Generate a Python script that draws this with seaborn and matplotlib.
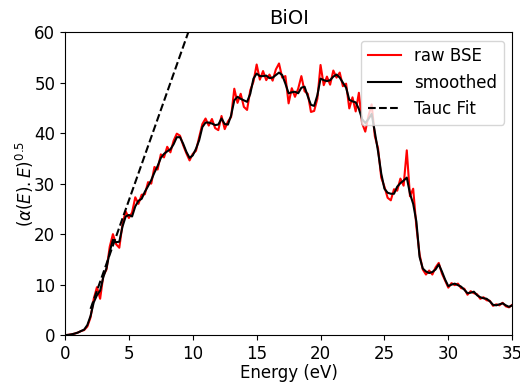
import numpy as np
import pandas as pd
import matplotlib
matplotlib.use("Agg")
import matplotlib.pyplot as plt
import seaborn as sns

energy = [0.0, 0.25, 0.5, 0.75, 1.0, 1.25, 1.5, 1.75, 2.0, 2.25, 2.5, 2.75, 3.0, 3.25, 3.5, 3.75,
          4.0, 4.25, 4.5, 4.75, 5.0, 5.25, 5.5, 5.75, 6.0, 6.25, 6.5, 6.75, 7.0, 7.25, 7.5, 7.75,
          8.0, 8.25, 8.5, 8.75, 9.0, 9.25, 9.5, 9.75, 10.0, 10.25, 10.5, 10.75, 11.0, 11.25, 11.5, 11.75,
          12.0, 12.25, 12.5, 12.75, 13.0, 13.25, 13.5, 13.75, 14.0, 14.25, 14.5, 14.75, 15.0, 15.25, 15.5, 15.75,
          16.0, 16.25, 16.5, 16.75, 17.0, 17.25, 17.5, 17.75, 18.0, 18.25, 18.5, 18.75, 19.0, 19.25, 19.5, 19.75,
          20.0, 20.25, 20.5, 20.75, 21.0, 21.25, 21.5, 21.75, 22.0, 22.25, 22.5, 22.75, 23.0, 23.25, 23.5, 23.75,
          24.0, 24.25, 24.5, 24.75, 25.0, 25.25, 25.5, 25.75, 26.0, 26.25, 26.5, 26.75, 27.0, 27.25, 27.5, 27.75,
          28.0, 28.25, 28.5, 28.75, 29.0, 29.25, 29.5, 29.75, 30.0, 30.25, 30.5, 30.75, 31.0, 31.25, 31.5, 31.75,
          32.0, 32.25, 32.5, 32.75, 33.0, 33.25, 33.5, 33.75, 34.0, 34.25, 34.5, 34.75, 35.0]

raw_bse = [0.0, 0.05, 0.15, 0.3, 0.5, 0.8, 1.0, 1.7, 3.5, 7.2, 9.5, 7.2, 11.8, 13.0, 17.5, 20.0,
           18.0, 17.3, 22.0, 24.5, 23.2, 24.3, 27.3, 26.0, 27.8, 27.9, 30.3, 30.0, 33.3, 32.8, 35.8, 35.2,
           37.3, 36.2, 38.5, 39.9, 39.5, 37.6, 36.0, 34.6, 35.9, 36.5, 39.2, 41.8, 42.9, 41.5, 42.8, 41.0,
           40.6, 43.4, 40.8, 42.3, 43.2, 48.8, 46.0, 47.8, 45.2, 44.6, 48.5, 50.2, 53.6, 50.6, 52.3, 50.5,
           51.6, 50.4, 52.6, 53.8, 51.0, 51.3, 45.9, 48.9, 47.2, 48.8, 51.3, 48.3, 47.8, 44.2, 44.4, 46.8,
           53.5, 49.5, 51.2, 49.6, 52.4, 51.0, 52.0, 49.3, 49.8, 44.9, 47.1, 44.3, 48.0, 42.0, 40.3, 43.4,
           45.7, 39.4, 37.0, 31.2, 29.4, 27.2, 26.7, 28.9, 28.6, 31.0, 29.6, 36.6, 27.5, 29.0, 21.5, 16.0,
           13.0, 12.0, 12.8, 12.0, 13.4, 14.3, 12.2, 10.8, 9.4, 10.3, 9.9, 10.2, 9.3, 9.2, 8.0, 8.7,
           8.3, 8.1, 7.2, 7.5, 6.9, 6.8, 5.8, 6.1, 5.9, 6.4, 5.7, 5.5, 6.0]

smoothed = [0.0, 0.05, 0.15, 0.3, 0.5, 0.8, 1.1, 2.0, 3.8, 6.5, 7.9, 8.8, 11.5, 13.3, 16.5, 18.9,
            18.4, 18.5, 21.5, 23.5, 23.8, 23.5, 25.5, 26.6, 27.0, 28.4, 29.5, 30.7, 32.2, 33.5, 35.1, 35.9,
            36.4, 36.8, 37.8, 39.2, 39.2, 37.9, 36.3, 35.1, 35.6, 36.9, 38.6, 41.2, 42.1, 42.1, 41.9, 41.6,
            41.7, 42.9, 41.8, 41.7, 43.5, 46.5, 47.2, 46.8, 46.5, 46.2, 47.8, 50.8, 51.8, 51.3, 51.3, 51.4,
            50.9, 51.0, 51.5, 52.0, 51.5, 49.8, 47.9, 48.1, 48.2, 47.9, 49.0, 49.2, 47.3, 45.6, 45.4, 47.5,
            50.8, 50.5, 50.3, 50.5, 51.2, 51.6, 51.0, 50.0, 49.0, 46.6, 46.3, 46.1, 44.8, 42.8, 42.0, 42.8,
            43.8, 40.2, 36.4, 32.0, 29.0, 28.2, 28.0, 28.0, 29.4, 30.1, 30.6, 31.2, 28.0, 26.0, 22.5, 15.5,
            13.2, 12.6, 12.3, 12.5, 13.0, 14.0, 12.6, 11.0, 9.7, 10.0, 10.2, 9.9, 9.6, 9.0, 8.3, 8.4,
            8.6, 7.9, 7.5, 7.3, 7.2, 6.7, 6.0, 5.9, 6.1, 6.3, 5.9, 5.6, 5.9]

tauc_x = [2.0, 10.0]
tauc_y = [5.2, 62.5]

df = pd.DataFrame({"energy": energy, "raw": raw_bse, "smooth": smoothed})
df_tauc = pd.DataFrame({"energy": tauc_x, "fit": tauc_y})

fig, ax = plt.subplots(figsize=(5.2, 3.83), dpi=100)
fig.subplots_adjust(left=0.125, right=0.985, top=0.916, bottom=0.125)

sns.lineplot(data=df, x="energy", y="raw", color="red", linewidth=1.5,
             label="raw BSE", ax=ax, estimator=None, sort=False)
sns.lineplot(data=df, x="energy", y="smooth", color="black", linewidth=1.5,
             label="smoothed", ax=ax, estimator=None, sort=False)
sns.lineplot(data=df_tauc, x="energy", y="fit", color="black", linewidth=1.5,
             linestyle="--", label="Tauc Fit", ax=ax, estimator=None, sort=False)

ax.set_xlim(0, 35)
ax.set_ylim(0, 60)
ax.set_xticks([0, 5, 10, 15, 20, 25, 30, 35])
ax.set_yticks([0, 10, 20, 30, 40, 50, 60])
ax.tick_params(labelsize=12)
ax.set_xlabel("Energy (eV)", fontsize=12, labelpad=1)
ax.set_ylabel(r"$(\alpha(E).E)^{0.5}$", fontsize=12, labelpad=-1)
ax.set_title("BiOI", fontsize=14)
ax.legend(loc="upper right", fontsize=12)

fig.savefig("out.png", dpi=100)
